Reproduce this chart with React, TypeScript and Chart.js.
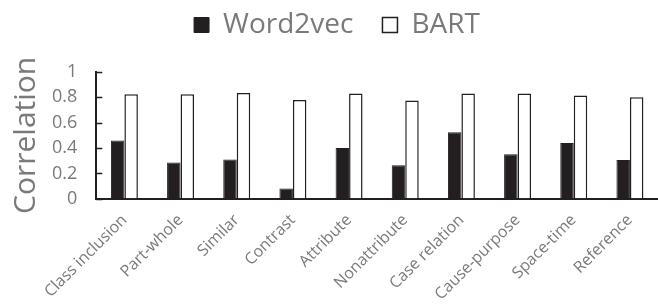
import React, { useEffect, useRef } from "react";
import { Chart, registerables } from "chart.js";

Chart.register(...registerables);

const categories = [
  "Class inclusion",
  "Part-whole",
  "Similar",
  "Contrast",
  "Attribute",
  "Nonattribute",
  "Case relation",
  "Cause-purpose",
  "Space-time",
  "Reference",
];
const word2vec = [0.46, 0.285, 0.31, 0.08, 0.4, 0.265, 0.525, 0.35, 0.44, 0.305];
const bart = [0.825, 0.825, 0.835, 0.78, 0.83, 0.775, 0.83, 0.83, 0.815, 0.8];
const yTicks = [0, 0.2, 0.4, 0.6, 0.8, 1];

const FONT = "'Open Sans', 'DejaVu Sans', sans-serif";
const GRAY = "#7a7a7a";
const DARK = "#231f20";

const innerTicks = {
  id: "innerTicks",
  afterDraw(chart: any) {
    const y = chart.scales.y;
    const ctx = chart.ctx;
    const x0 = chart.chartArea.left;
    ctx.save();
    ctx.strokeStyle = DARK;
    ctx.lineWidth = 1.5;
    yTicks.forEach((v) => {
      const py = Math.round(y.getPixelForValue(v)) + 0.5;
      ctx.beginPath();
      ctx.moveTo(x0, py);
      ctx.lineTo(x0 + 6, py);
      ctx.stroke();
    });
    ctx.restore();
  },
};

const legendGap = {
  id: "legendGap",
  beforeInit(chart: any) {
    const lg = chart.legend;
    const orig = lg.fit;
    lg.fit = function () {
      orig.call(this);
      this.height += 5;
    };
  },
  afterLayout(chart: any) {
    const lg = chart.legend;
    lg.top -= 18;
    lg.bottom -= 18;
    lg.left += 4;
    lg.right += 4;
  },
};

export default function App() {
  const ref = useRef<HTMLCanvasElement>(null);
  useEffect(() => {
    document.body.style.margin = "0";
    const chart = new Chart(ref.current!, {
      type: "bar",
      data: {
        labels: categories,
        datasets: [
          {
            label: "Word2vec",
            data: word2vec,
            backgroundColor: DARK,
            borderColor: DARK,
            borderWidth: 1,
          },
          {
            label: "BART",
            data: bart,
            backgroundColor: "#ffffff",
            borderColor: DARK,
            borderWidth: 1.5,
          },
        ],
      },
      options: {
        animation: false,
        responsive: false,
        maintainAspectRatio: false,
        datasets: {
          bar: { categoryPercentage: 0.48, barPercentage: 1 },
        },
        layout: { padding: { left: 8, right: 0, top: 0, bottom: 0 } },
        plugins: {
          legend: {
            position: "top",
            labels: {
              boxWidth: 15,
              boxHeight: 15,
              color: GRAY,
              font: { family: FONT, size: 28 },
              padding: 29,
            },
          },
          tooltip: { enabled: false },
        },
        scales: {
          x: {
            grid: { display: false },
            border: { color: DARK, width: 2 },
            ticks: {
              color: GRAY,
              font: { family: FONT, size: 16 },
              minRotation: 45,
              maxRotation: 45,
              autoSkip: false,
              padding: 4,
            },
          },
          y: {
            min: 0,
            max: 1,
            afterBuildTicks: (s: any) => {
              s.ticks = yTicks.map((v) => ({ value: v }));
            },
            grid: { drawOnChartArea: false, tickLength: 15, tickColor: "rgba(0,0,0,0)" },
            border: { color: DARK, width: 2 },
            ticks: {
              color: GRAY,
              font: { family: FONT, size: 18 },
              padding: 4,
              callback: (v: any) => String(Number(v)),
            },
            title: {
              display: true,
              text: "Correlation",
              color: GRAY,
              font: { family: FONT, size: 30 },
              padding: { top: 0, bottom: 4 },
            },
          },
        },
      },
      plugins: [innerTicks, legendGap],
    });
    return () => chart.destroy();
  }, []);
  return (
    <div style={{ width: 658, height: 308 }}>
      <canvas ref={ref} width={658} height={308} />
    </div>
  );
}
